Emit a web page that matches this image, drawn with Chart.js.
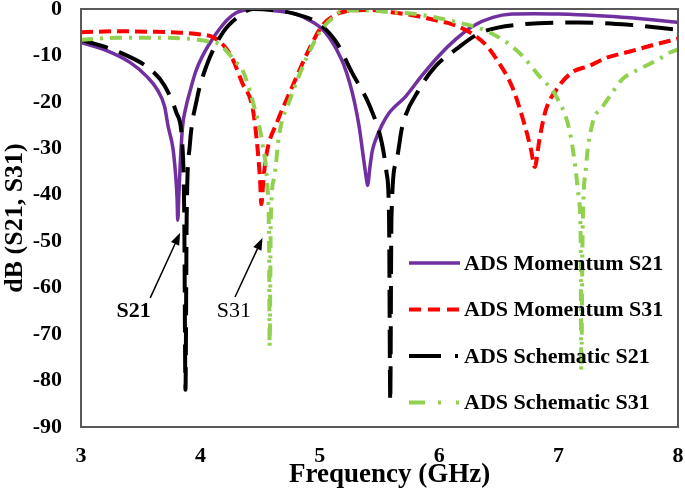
<!DOCTYPE html>
<html>
<head>
<meta charset="utf-8">
<script src="https://cdn.jsdelivr.net/npm/chart.js@4.4.1/dist/chart.umd.min.js"></script>
<style>
  html, body { margin: 0; padding: 0; background: #ffffff; }
  #c { display: block; }
</style>
</head>
<body>
<canvas id="c" width="685" height="493"></canvas>
<script>
// ---------------- DATA ----------------
const seriesLabels = ["ADS Momentum S21", "ADS Momentum S31", "ADS Schematic S21", "ADS Schematic S31"];

const momS21Freq = [3.0, 3.2, 3.41, 3.55, 3.64, 3.70, 3.73, 3.77, 3.79, 3.805, 3.81, 3.82, 3.83, 3.85, 3.88, 3.91, 3.96, 4.02, 4.10, 4.16, 4.23, 4.30, 4.38, 4.47, 4.60, 4.80, 4.92, 5.02, 5.08, 5.14, 5.20, 5.25, 5.29, 5.33, 5.36, 5.39, 5.40, 5.42, 5.44, 5.47, 5.52, 5.58, 5.72, 5.85, 6.00, 6.14, 6.28, 6.45, 6.61, 6.80, 7.00, 7.30, 7.60, 8.00];
const momS21Db   = [-7.2, -8.8, -11.5, -14.5, -17.4, -21, -25.3, -30, -35, -41, -45.5, -40, -34, -25.5, -21, -18, -13.5, -10, -6.5, -4.3, -2.2, -0.8, -0.2, 0, -0.3, -1.1, -2.5, -4.3, -6.2, -8.7, -12, -15.9, -20, -25.4, -31, -36.5, -38, -34, -30.5, -28, -25, -22.4, -18.8, -14.5, -10, -6.5, -3.7, -1.8, -1.1, -1.0, -1.1, -1.4, -1.9, -2.9];

const momS31Freq = [3.0, 3.3, 3.6, 3.83, 4.0, 4.10, 4.20, 4.27, 4.35, 4.44, 4.48, 4.50, 4.51, 4.53, 4.56, 4.64, 4.77, 4.91, 5.02, 5.14, 5.22, 5.40, 5.60, 5.81, 6.00, 6.11, 6.28, 6.40, 6.48, 6.61, 6.71, 6.77, 6.80, 6.84, 6.89, 6.98, 7.11, 7.26, 7.40, 7.59, 7.80, 8.00];
const momS31Db   = [-5.0, -4.8, -4.9, -5.1, -5.5, -6.0, -8.0, -10.8, -15.9, -21.7, -30.4, -37, -42, -36, -30.4, -24.5, -16.7, -8.7, -3.6, -1.1, -0.5, -0.2, -0.7, -1.5, -2.6, -3.3, -5.4, -8.0, -10.8, -16.7, -24.5, -30.4, -34, -28, -22, -17.4, -13.7, -12.2, -10.5, -9.2, -7.7, -6.4];

const schS21Freq = [3.0, 3.33, 3.6, 3.70, 3.80, 3.85, 3.865, 3.875, 3.885, 3.91, 3.97, 4.05, 4.19, 4.30, 4.44, 4.80, 5.00, 5.14, 5.27, 5.42, 5.52, 5.56, 5.58, 5.59, 5.60, 5.64, 5.69, 5.83, 5.97, 6.14, 6.34, 6.65, 7.17, 7.59, 8.00];
const schS21Db   = [-6.6, -9.4, -13.4, -16.5, -22.4, -29.7, -45, -82, -45, -29.7, -19.5, -12.3, -5, -2, 0, -1.1, -3.3, -7.2, -13.7, -21, -28.9, -35.4, -45, -84.6, -45, -33, -25.4, -17.4, -12.3, -8.7, -5.2, -3.4, -2.9, -3.4, -4.5];

const schS31Freq = [3.0, 3.3, 3.6, 3.9, 4.05, 4.16, 4.30, 4.35, 4.45, 4.52, 4.56, 4.575, 4.58, 4.59, 4.62, 4.66, 4.75, 4.89, 5.00, 5.11, 5.20, 5.40, 5.60, 5.81, 6.14, 6.42, 6.67, 6.84, 6.98, 7.09, 7.14, 7.17, 7.185, 7.19, 7.20, 7.23, 7.28, 7.37, 7.45, 7.53, 7.67, 7.84, 7.92, 8.00];
const schS31Db   = [-6.6, -6.2, -6.2, -6.4, -6.9, -7.6, -11.5, -13, -21, -29, -38, -50, -72.6, -45, -36, -27, -19.5, -10.5, -5, -1.8, -0.3, -0.3, -0.7, -1.1, -2.8, -5, -9.4, -14.5, -18.8, -26, -34, -41, -50, -77.7, -50, -34, -25, -21, -18, -15.2, -13, -10.8, -9.5, -8.7];

const xTicks = [3, 4, 5, 6, 7, 8];
const yTicks = [-90, -80, -70, -60, -50, -40, -30, -20, -10, 0];
const xTitle = "Frequency (GHz)";
const yTitle = "dB (S21, S31)";

// Annotation texts (positions given in data units)
const annotations = [
  { text: "S21", bold: true,  at: [3.44, -65], from: [3.58, -62.2], to: [3.83, -48.2] },
  { text: "S31", bold: false, at: [4.28, -65], from: [4.29, -62.0], to: [4.52, -49.3] }
];

// ---------------- STYLE ----------------
const FONT = "'Liberation Serif', 'Times New Roman', serif";
const colors = ["#7030A0", "#FF0000", "#000000", "#92D050"];
const widths = [3.5, 4, 4, 4];
const plotDash = [[], [12, 6], [28, 12], [12, 7, 3, 7]];
const legendDash = [[], [12, 7], [32, 14, 3, 40], [16, 13, 3, 15, 3, 40]];

function toPoints(xs, ys) { return xs.map((x, i) => ({ x: x, y: ys[i] })); }
const seriesData = [
  toPoints(momS21Freq, momS21Db),
  toPoints(momS31Freq, momS31Db),
  toPoints(schS21Freq, schS21Db),
  toPoints(schS31Freq, schS31Db)
];

const datasets = seriesData.map((d, i) => ({
  label: seriesLabels[i],
  data: d,
  borderColor: colors[i],
  backgroundColor: colors[i],
  borderWidth: widths[i],
  borderDash: plotDash[i],
  borderCapStyle: 'butt',
  pointRadius: 0,
  fill: false,
  cubicInterpolationMode: 'monotone',
  order: 4 - i
}));

function zeroPad(scale) {
  scale.paddingLeft = 0; scale.paddingRight = 0;
  scale.paddingTop = 0; scale.paddingBottom = 0;
}

const framePlugin = {
  id: 'frame',
  afterDatasetsDraw(chart) {
    const ctx = chart.ctx, a = chart.chartArea;
    ctx.save();
    ctx.strokeStyle = '#595959';
    ctx.lineWidth = 2;
    ctx.setLineDash([]);
    ctx.strokeRect(a.left, a.top, a.right - a.left, a.bottom - a.top);
    ctx.restore();
  }
};

const legendPlugin = {
  id: 'insideLegend',
  afterDatasetsDraw(chart) {
    const ctx = chart.ctx, a = chart.chartArea;
    ctx.save();
    chart.data.datasets.forEach((ds, i) => {
      const y = a.top + 254 + i * 46.5;
      const x0 = a.left + 328, x1 = a.left + 379;
      ctx.beginPath();
      ctx.strokeStyle = ds.borderColor;
      ctx.lineWidth = ds.borderWidth;
      ctx.lineCap = 'butt';
      ctx.setLineDash(legendDash[i]);
      ctx.moveTo(x0, y);
      ctx.lineTo(x1, y);
      ctx.stroke();
      ctx.setLineDash([]);
      ctx.fillStyle = '#000000';
      ctx.font = "bold 22px " + FONT;
      ctx.textAlign = 'left';
      ctx.textBaseline = 'middle';
      ctx.fillText(ds.label, x1 + 4, y + 1);
    });
    ctx.restore();
  }
};

const annotationPlugin = {
  id: 'arrows',
  afterDatasetsDraw(chart) {
    const ctx = chart.ctx, xs = chart.scales.x, ys = chart.scales.y;
    ctx.save();
    annotations.forEach(an => {
      const tx = xs.getPixelForValue(an.at[0]), ty = ys.getPixelForValue(an.at[1]);
      ctx.fillStyle = '#000000';
      ctx.font = (an.bold ? "bold " : "") + "22px " + FONT;
      ctx.textAlign = 'center';
      ctx.textBaseline = 'middle';
      ctx.fillText(an.text, tx, ty);
      const fx = xs.getPixelForValue(an.from[0]), fy = ys.getPixelForValue(an.from[1]);
      const ex = xs.getPixelForValue(an.to[0]), ey = ys.getPixelForValue(an.to[1]);
      const ang = Math.atan2(ey - fy, ex - fx);
      const hl = 12, hw = 4.5;
      const bx = ex - hl * Math.cos(ang), by = ey - hl * Math.sin(ang);
      ctx.strokeStyle = '#000000';
      ctx.lineWidth = 1.5;
      ctx.setLineDash([]);
      ctx.beginPath();
      ctx.moveTo(fx, fy);
      ctx.lineTo(bx, by);
      ctx.stroke();
      ctx.beginPath();
      ctx.moveTo(ex, ey);
      ctx.lineTo(bx + hw * Math.sin(ang), by - hw * Math.cos(ang));
      ctx.lineTo(bx - hw * Math.sin(ang), by + hw * Math.cos(ang));
      ctx.closePath();
      ctx.fill();
    });
    ctx.restore();
  }
};

new Chart(document.getElementById('c'), {
  type: 'line',
  data: { datasets: datasets },
  options: {
    responsive: false,
    devicePixelRatio: 1,
    animation: false,
    events: [],
    layout: { padding: { top: 9, right: 7, left: 0, bottom: 0 } },
    plugins: {
      legend: { display: false },
      tooltip: { enabled: false },
      title: { display: false }
    },
    scales: {
      x: {
        type: 'linear',
        min: xTicks[0],
        max: xTicks[xTicks.length - 1],
        afterBuildTicks(scale) { scale.ticks = xTicks.map(v => ({ value: v })); },
        afterFit(scale) { scale.height = 66; zeroPad(scale); },
        grid: { display: false, drawTicks: false },
        border: { display: false },
        ticks: {
          color: '#000000',
          padding: 16,
          maxRotation: 0,
          font: { family: FONT, size: 22, weight: 'bold', lineHeight: 1.2 }
        },
        title: {
          display: true,
          text: '\u00a0\u00a0\u00a0' + xTitle,
          color: '#000000',
          padding: { top: 0, bottom: 2 },
          font: { family: FONT, size: 27, weight: 'bold', lineHeight: 1.2 }
        }
      },
      y: {
        type: 'linear',
        min: yTicks[0],
        max: yTicks[yTicks.length - 1],
        afterBuildTicks(scale) { scale.ticks = yTicks.map(v => ({ value: v })); },
        afterFit(scale) { scale.width = 81; zeroPad(scale); },
        grid: { display: false, drawTicks: false },
        border: { display: false },
        ticks: {
          color: '#000000',
          padding: 19,
          font: { family: FONT, size: 22, weight: 'bold', lineHeight: 0.8 }
        },
        title: {
          display: true,
          text: yTitle,
          color: '#000000',
          padding: { top: 0, bottom: 0 },
          font: { family: FONT, size: 26, weight: 'bold', lineHeight: 1.2 }
        }
      }
    }
  },
  plugins: [framePlugin, legendPlugin, annotationPlugin]
});
</script>
</body>
</html>
